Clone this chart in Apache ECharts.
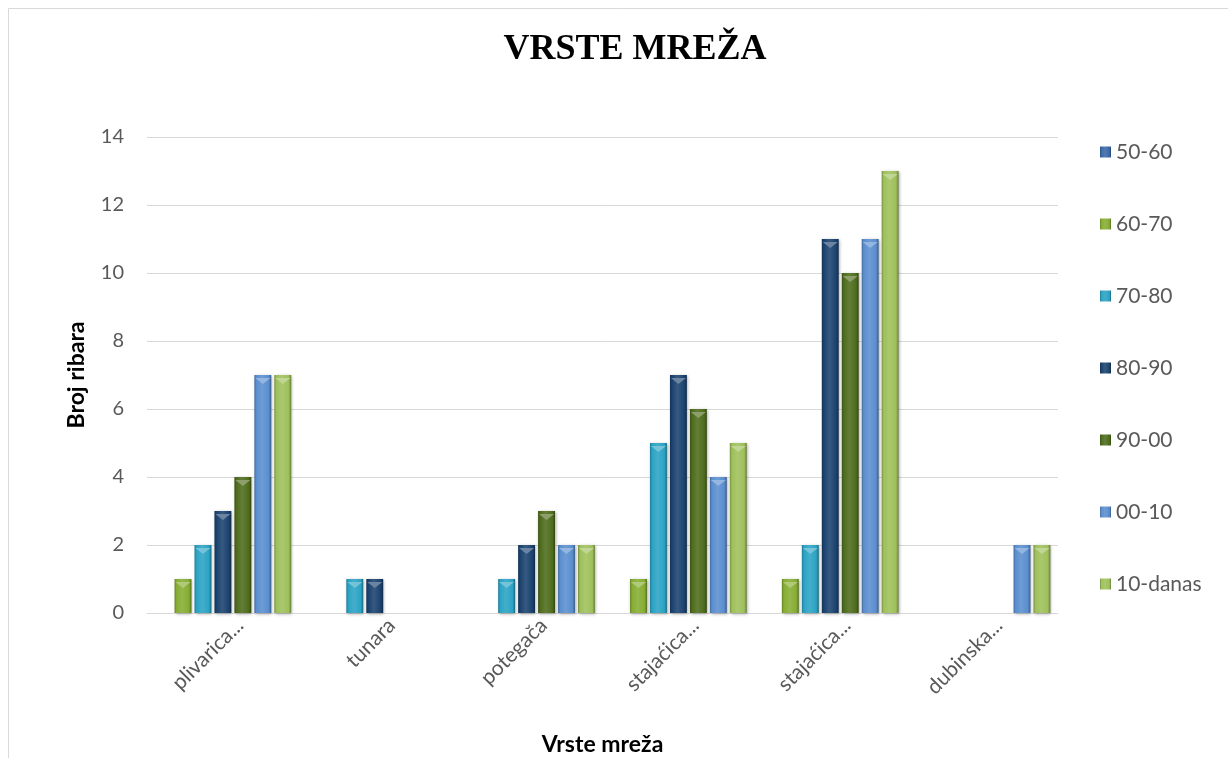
<!DOCTYPE html>
<html>
<head>
<meta charset="utf-8">
<script src="https://cdn.jsdelivr.net/npm/echarts@6/dist/echarts.min.js"></script>
<style>
  html, body { margin: 0; padding: 0; background: #fff; }
  #chart { width: 1228px; height: 758px; }
</style>
</head>
<body>
<div id="chart"></div>
<script>
// kategorije (oznake su skraćene kao na originalu)
const categories = ["plivarica...", "tunara", "potegača", "stajaćica...", "stajaćica...", "dubinska..."];
const seriesNames = ["50-60", "60-70", "70-80", "80-90", "90-00", "00-10", "10-danas"];

const v5060 = [0, 0, 0, 0, 0, 0];
const v6070 = [1, 0, 0, 1, 1, 0];
const v7080 = [2, 1, 1, 5, 2, 0];
const v8090 = [3, 1, 2, 7, 11, 0];
const v9000 = [4, 0, 3, 6, 10, 0];
const v0010 = [7, 0, 2, 4, 11, 2];
const v10danas = [7, 0, 2, 5, 13, 2];
const yTicks = [0, 2, 4, 6, 8, 10, 12, 14];

const allValues = [v5060, v6070, v7080, v8090, v9000, v0010, v10danas];
const baseColors = ["#3a6aa8", "#86ad32", "#2ba3c4", "#1b426f", "#4e6c1c", "#5a8ecf", "#9ec05a"];

// posvijetli / potamni boju
function shade(hex, amt) {
  let n = parseInt(hex.slice(1), 16);
  let r = (n >> 16) & 255, g = (n >> 8) & 255, b = n & 255;
  const f = c => Math.max(0, Math.min(255, Math.round(amt >= 0 ? c + (255 - c) * amt : c * (1 + amt))));
  return "rgb(" + f(r) + "," + f(g) + "," + f(b) + ")";
}
function barGradient(hex) {
  return new echarts.graphic.LinearGradient(0, 0, 1, 0, [
    { offset: 0, color: shade(hex, -0.25) },
    { offset: 0.12, color: hex },
    { offset: 0.45, color: shade(hex, 0.12) },
    { offset: 0.85, color: hex },
    { offset: 1, color: shade(hex, -0.35) }
  ]);
}

const font = "Lato, 'Open Sans', sans-serif";
const series = [];
seriesNames.forEach((name, i) => {
  series.push({
    name: name,
    type: "bar",
    data: allValues[i],
    barGap: "18%",
    barCategoryGap: "10%",
    itemStyle: {
      color: barGradient(baseColors[i]),
      shadowBlur: 3,
      shadowColor: "rgba(0,0,0,0.35)",
      shadowOffsetX: 1,
      shadowOffsetY: 1
    }
  });
});
// mali trokuti na vrhu stupaca (efekt kosine)
seriesNames.forEach((name, i) => {
  series.push({
    name: name + "-vrh",
    type: "pictorialBar",
    data: allValues[i].map(v => (v > 0 ? v : "-")),
    barGap: "18%",
    barCategoryGap: "10%",
    symbol: "triangle",
    symbolRotate: 180,
    symbolSize: [15, 6],
    symbolPosition: "end",
    symbolOffset: [0, "50%"],
    z: 3,
    silent: true,
    itemStyle: { color: shade(baseColors[i], 0.35) }
  });
});

const chart = echarts.init(document.getElementById("chart"));
chart.setOption({
  animation: false,
  backgroundColor: "#fff",
  graphic: [{
    type: "rect",
    shape: { x: 8.5, y: 8.5, width: 1240, height: 760 },
    style: { fill: "none", stroke: "#d9d9d9", lineWidth: 1 },
    silent: true
  }],
  title: {
    text: "VRSTE MREŽA",
    left: 630,
    textAlign: "center",
    top: 27,
    textStyle: { fontFamily: "'Liberation Serif', serif", fontWeight: "bold", fontSize: 36, color: "#000" }
  },
  legend: {
    data: seriesNames,
    orient: "vertical",
    left: 1095,
    top: 136,
    itemWidth: 11,
    itemHeight: 11,
    itemGap: 50,
    icon: "rect",
    textStyle: { fontFamily: font, fontSize: 21, lineHeight: 22, color: "#595959" }
  },
  grid: { left: 147, right: 170, top: 137, bottom: 145, outerBoundsMode: "none" },
  xAxis: {
    type: "category",
    data: categories,
    name: "Vrste mreža",
    nameLocation: "middle",
    nameGap: 120,
    nameTextStyle: { fontFamily: font, fontWeight: "bold", fontSize: 23, color: "#000" },
    axisLine: { lineStyle: { color: "#d9d9d9", width: 1 } },
    axisTick: { show: false },
    axisLabel: {
      interval: 0,
      rotate: 45,
      margin: 26,
      padding: [0, -24, 0, 0],
      fontFamily: font,
      fontSize: 21,
      color: "#595959"
    }
  },
  yAxis: {
    type: "value",
    min: 0,
    max: 14,
    interval: 2,
    name: "Broj ribara",
    nameLocation: "middle",
    nameGap: 59,
    nameTextStyle: { fontFamily: font, fontWeight: "bold", fontSize: 23, color: "#000" },
    axisLine: { show: false },
    axisTick: { show: false },
    splitLine: { lineStyle: { color: "#d9d9d9" } },
    axisLabel: {
      margin: 23,
      fontFamily: font,
      fontSize: 20,
      color: "#595959",
      formatter: v => (yTicks.indexOf(v) >= 0 ? String(v) : "")
    }
  },
  series: series
});
</script>
</body>
</html>
